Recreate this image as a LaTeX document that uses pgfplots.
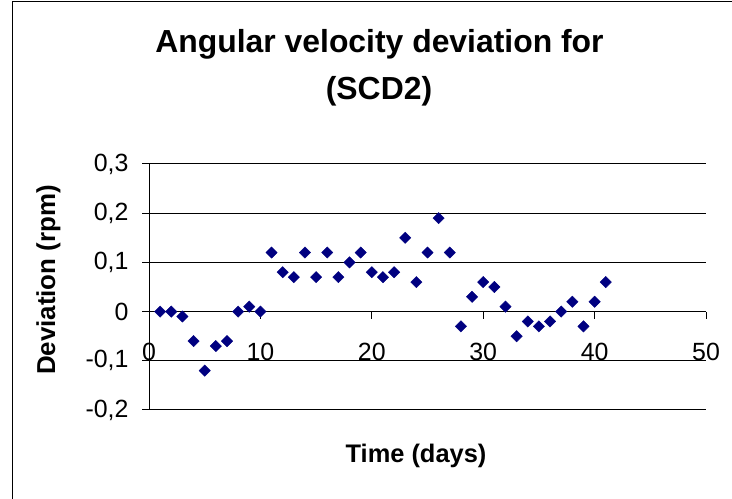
\documentclass[border=0pt]{standalone}
\usepackage{pgfplots}
\pgfplotsset{compat=1.18}
\usepackage{fontspec}
\setmainfont{Liberation Sans}
\definecolor{navy}{HTML}{000080}
\pgfplotstableread{
x y
1 0
2 0
3 -0.01
4 -0.06
5 -0.12
6 -0.07
7 -0.06
8 0
9 0.01
10 0
11 0.12
12 0.08
13 0.07
14 0.12
15 0.07
16 0.12
17 0.07
18 0.10
19 0.12
20 0.08
21 0.07
22 0.08
23 0.15
24 0.06
25 0.12
26 0.19
27 0.12
28 -0.03
29 0.03
30 0.06
31 0.05
32 0.01
33 -0.05
34 -0.02
35 -0.03
36 -0.02
37 0
38 0.02
39 -0.03
40 0.02
41 0.06
}\datatable
\begin{document}
\begin{tikzpicture}[x=1bp,y=1bp]
\useasboundingbox (0,0) rectangle (732,499);
\draw[line width=1bp] (12,0) -- (12,497.5) -- (732,497.5);
\node[anchor=base, inner sep=0pt, font=\bfseries\fontsize{32}{36}\selectfont] at (379.5,446) {Angular velocity deviation for};
\node[anchor=base, inner sep=0pt, font=\bfseries\fontsize{32}{36}\selectfont] at (379,399) {(SCD2)};
\node[anchor=base, inner sep=0pt, font=\bfseries\fontsize{25.5}{30}\selectfont] at (416,36) {Time (days)};
\node[anchor=base, rotate=90, inner sep=0pt, font=\bfseries\fontsize{26}{30}\selectfont] at (55,219) {Deviation (rpm)};
\begin{axis}[
  at={(149bp,89bp)}, anchor=south west,
  scale only axis, width=557bp, height=246bp,
  xmin=0, xmax=50, ymin=-0.2, ymax=0.3,
  xtick={0,10,20,30,40,50},
  ytick={-0.2,-0.1,0,0.1,0.2,0.3},
  axis x line*=middle, axis y line*=left,
  x axis line style={-, line width=1bp, black},
  y axis line style={-, line width=1bp, black},
  hide obscured x ticks=false, hide obscured y ticks=false,
  ymajorgrids, grid style={black, line width=1bp},
  major tick length=7bp,
  tick style={black, line width=1bp},
  xtick align=outside, ytick align=outside,
  /pgf/number format/assume math mode=true,
  tick label style={font=\fontsize{25}{30}\selectfont},
  yticklabel style={xshift=-10bp, /pgf/number format/use comma, /pgf/number format/fixed, /pgf/number format/precision=1},
  xticklabel style={anchor=base, inner sep=0pt, yshift=-42bp},
  clip=false,
]
\addplot[only marks, mark=square*, mark size=4bp, mark options={rotate=45, fill=navy, draw=navy, line width=0.4bp}] table[x=x, y=y] {\datatable};
\end{axis}
\end{tikzpicture}
\end{document}
